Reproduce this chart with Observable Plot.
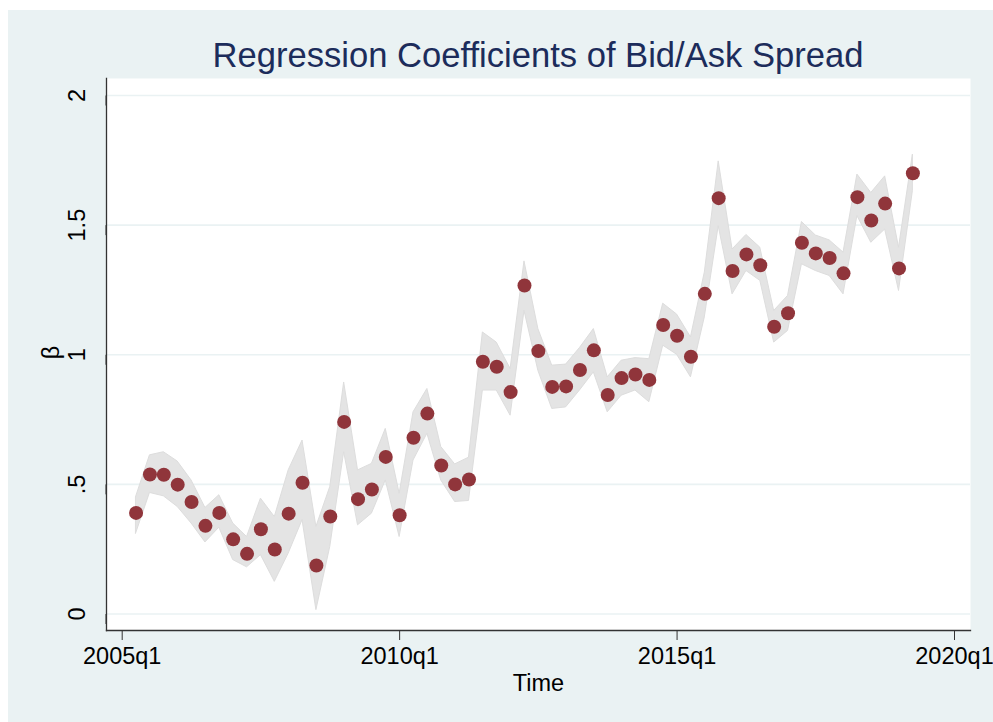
<!DOCTYPE html>
<html>
<head>
<meta charset="utf-8">
<script src="https://cdn.jsdelivr.net/npm/d3@7"></script>
<script src="https://cdn.jsdelivr.net/npm/@observablehq/plot@0.6"></script>
<style>
  html, body { margin: 0; padding: 0; background: #ffffff; }
  #bg { position: absolute; left: 8px; top: 10px; width: 985px; height: 712px; background: #eaf2f3; }
  #chart { position: absolute; left: 0; top: 0; }
</style>
</head>
<body>
<div id="bg"></div>
<div id="chart"></div>
<script>
const quarters = [
  "2005q2","2005q3","2005q4","2006q1","2006q2","2006q3","2006q4",
  "2007q1","2007q2","2007q3","2007q4","2008q1","2008q2","2008q3","2008q4",
  "2009q1","2009q2","2009q3","2009q4","2010q1","2010q2","2010q3","2010q4",
  "2011q1","2011q2","2011q3","2011q4","2012q1","2012q2","2012q3","2012q4",
  "2013q1","2013q2","2013q3","2013q4","2014q1","2014q2","2014q3","2014q4",
  "2015q1","2015q2","2015q3","2015q4","2016q1","2016q2","2016q3","2016q4",
  "2017q1","2017q2","2017q3","2017q4","2018q1","2018q2","2018q3","2018q4",
  "2019q1","2019q2"
];
const beta = [
  0.39,0.538,0.537,0.499,0.432,0.34,0.39,
  0.288,0.232,0.327,0.249,0.387,0.506,0.187,0.376,
  0.741,0.443,0.48,0.606,0.381,0.68,0.773,0.573,
  0.5,0.519,0.973,0.954,0.856,1.267,1.014,0.876,
  0.878,0.941,1.017,0.845,0.91,0.924,0.903,1.115,
  1.073,0.992,1.235,1.604,1.323,1.387,1.345,1.108,
  1.16,1.432,1.391,1.373,1.314,1.608,1.518,1.583,
  1.333,1.7
];
const upper = [
  0.451,0.612,0.624,0.588,0.515,0.409,0.458,
  0.349,0.297,0.445,0.374,0.554,0.669,0.336,0.49,
  0.893,0.554,0.579,0.714,0.464,0.778,0.868,0.644,
  0.577,0.603,1.086,1.047,0.945,1.36,1.099,0.958,
  0.962,1.026,1.099,0.913,0.977,0.987,0.983,1.197,
  1.155,1.067,1.317,1.746,1.406,1.462,1.413,1.169,
  1.227,1.512,1.46,1.441,1.394,1.695,1.624,1.688,
  1.413,1.772
];
const lower = [
  0.31,0.467,0.454,0.413,0.349,0.276,0.333,
  0.208,0.18,0.227,0.124,0.233,0.362,0.015,0.259,
  0.624,0.342,0.387,0.515,0.297,0.592,0.695,0.515,
  0.432,0.436,0.862,0.862,0.765,1.169,0.938,0.791,
  0.797,0.862,0.932,0.778,0.842,0.862,0.817,1.035,
  1.0,0.913,1.144,1.496,1.233,1.323,1.285,1.047,
  1.092,1.349,1.323,1.304,1.233,1.535,1.432,1.483,
  1.246,1.631
];
const xTickLabels = ["2005q1","2010q1","2015q1","2020q1"];
const yTickValues = [0, 0.5, 1, 1.5, 2];
const yTickLabels = ["0",".5","1","1.5","2"];
const titleText = "Regression Coefficients of Bid/Ask Spread";
const xLabel = "Time";
const yLabel = "β";

const qNum = q => +q.slice(0,4) + (+q.slice(5) - 1) / 4;
const xTickValues = xTickLabels.map(qNum);
const data = quarters.map((q, i) => ({t: qNum(q), b: beta[i], lo: lower[i], hi: upper[i]}));

const font = "'Liberation Sans', Arial, Helvetica, sans-serif";
const fs = 23.5;

const chart = Plot.plot({
  width: 993,
  height: 722,
  marginLeft: 106,
  marginRight: 23,
  marginTop: 78,
  marginBottom: 92,
  style: {background: "transparent", fontFamily: font, color: "#000"},
  x: {domain: [2005, 2020], range: [121.7, 954]},
  y: {domain: [0, 2], range: [613.5, 95]},
  marks: [
    Plot.frame({fill: "#ffffff", stroke: null}),
    Plot.gridY(yTickValues, {stroke: "#eaf2f3", strokeOpacity: 1, strokeWidth: 1.6}),
    Plot.areaY(data, {x: "t", y1: "lo", y2: "hi", fill: "#e4e4e4", stroke: "#dddddd", strokeWidth: 1}),
    Plot.dot(data, {x: "t", y: "b", r: 7, fill: "#90353b", stroke: null}),
    Plot.frame({anchor: "left", stroke: "#333", strokeWidth: 1.3}),
    Plot.frame({anchor: "bottom", stroke: "#333", strokeWidth: 1.3}),
    Plot.axisX(xTickValues, {
      tickSize: 10, tickPadding: 7, fontSize: fs, label: null,
      tickFormat: d => xTickLabels[xTickValues.indexOf(d)],
      stroke: "#333", fill: "#000"
    }),
    Plot.axisY(yTickValues, {
      tickSize: 10, tickPadding: 19, fontSize: fs, label: null,
      rotate: -90, textAnchor: "middle", lineAnchor: "middle",
      tickFormat: d => yTickLabels[yTickValues.indexOf(d)],
      stroke: "#333", fill: "#000"
    }),
    Plot.text([xLabel], {text: d => d, frameAnchor: "bottom", lineAnchor: "top", dy: 43.5, fontSize: fs, fill: "#000"}),
    Plot.text([yLabel], {text: d => d, frameAnchor: "left", rotate: -90, textAnchor: "middle", lineAnchor: "middle", dx: -55, dy: -2, fontSize: fs, fill: "#000"}),
    Plot.text([titleText], {text: d => d, frameAnchor: "top", lineAnchor: "bottom", dx: -0.5, dy: -12, fontSize: 34.6, fill: "#1c2c5b"})
  ]
});
document.getElementById("chart").appendChild(chart);
</script>
</body>
</html>
